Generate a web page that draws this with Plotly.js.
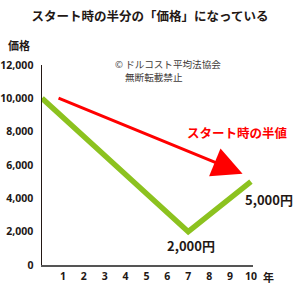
<!DOCTYPE html>
<html><head><meta charset="utf-8">
<script src="https://cdn.plot.ly/plotly-3.0.1.min.js"></script>
<style>html,body{margin:0;padding:0;background:#fff;}#chart{width:300px;height:293px;}</style>
</head><body><div id="chart"></div>
<script>
const years = [0, 7, 10];
const prices = [10000, 2000, 5000];
const xTicks = [1,2,3,4,5,6,7,8,9,10];
const yTicks = [0,2000,4000,6000,8000,10000,12000];
const yTickLabels = ['0','2,000','4,000','6,000','8,000','10,000','12,000'];
const arrowFrom = [0.72, 10050];
const arrowTo = [9.6, 5480];
const labelLow = '2,000円';
const labelEnd = '5,000円';
const arrowLabel = 'スタート時の半値';

const F = '"Noto Sans CJK JP", "Noto Sans", sans-serif';
const FN = '"Noto Sans", "Noto Sans CJK JP", sans-serif';

const trace = {
  x: years, y: prices, type: 'scatter', mode: 'lines',
  line: {color: '#8cc21f', width: 5.5}, cliponaxis: false, hoverinfo: 'skip'
};

function pa(px, py) { return {x: (px - 42) / 211, y: (265 - py) / 200}; }
const pLow = pa(191, 245), pEnd = pa(268.5, 199), pRed = pa(237, 132), pYear = pa(268, 277), pPrice = pa(19, 45);

const layout = {
  width: 300, height: 293,
  margin: {l: 42, r: 47, t: 65, b: 28},
  paper_bgcolor: '#fff', plot_bgcolor: '#fff',
  showlegend: false,
  font: {family: F, color: '#231815'},
  title: {text: 'スタート時の半分の「価格」になっている', x: 0.5, xanchor: 'center', y: 0.942, yanchor: 'middle',
          font: {family: F, size: 12.5, weight: 'bold', color: '#231815'}},
  xaxis: {range: [0, 10.1], tickvals: xTicks, ticktext: xTicks.map(String), showgrid: false, zeroline: false,
          showline: true, linecolor: '#555', linewidth: 1.5, ticks: '', ticklabelstandoff: 1,
          tickfont: {family: FN, size: 10.5, weight: 'bold', color: '#231815'}, fixedrange: true},
  yaxis: {range: [0, 12000], tickvals: yTicks, ticktext: yTickLabels, showgrid: false, zeroline: false,
          showline: true, linecolor: '#231815', linewidth: 1.5, ticks: '', ticklabelstandoff: 5,
          tickfont: {family: FN, size: 10.5, weight: 'bold', color: '#231815'}, fixedrange: true},
  annotations: [
    {x: arrowTo[0], y: arrowTo[1], ax: arrowFrom[0], ay: arrowFrom[1], xref: 'x', yref: 'y', axref: 'x', ayref: 'y',
     showarrow: true, arrowhead: 2, arrowsize: 2, arrowwidth: 3, arrowcolor: '#ff0000', text: ''},
    {x: pLow.x, y: pLow.y, xref: 'paper', yref: 'paper', xanchor: 'center', yanchor: 'middle', text: labelLow, showarrow: false,
     font: {family: F, size: 13, weight: 'bold', color: '#231815'}},
    {x: pEnd.x, y: pEnd.y, xref: 'paper', yref: 'paper', xanchor: 'center', yanchor: 'middle', text: labelEnd, showarrow: false,
     font: {family: F, size: 13, weight: 'bold', color: '#231815'}},
    {x: pRed.x, y: pRed.y, xref: 'paper', yref: 'paper', xanchor: 'center', yanchor: 'middle', text: arrowLabel, showarrow: false,
     font: {family: F, size: 12.5, weight: 'bold', color: '#ff0000'}},
    {x: pYear.x, y: pYear.y, xref: 'paper', yref: 'paper', xanchor: 'center', yanchor: 'middle', text: '年', showarrow: false,
     font: {family: F, size: 11, weight: 'bold', color: '#231815'}},
    {x: pPrice.x, y: pPrice.y, xref: 'paper', yref: 'paper', xanchor: 'center', yanchor: 'middle', text: '価格', showarrow: false,
     font: {family: F, size: 11, weight: 'bold', color: '#231815'}},
    {x: (113-42)/211, y: (265-64)/200, xref: 'paper', yref: 'paper', xanchor: 'left', yanchor: 'middle', text: '© ドルコスト平均法協会', showarrow: false,
     font: {family: F, size: 9.6, color: '#3e3a39'}},
    {x: (123-42)/211, y: (265-77)/200, xref: 'paper', yref: 'paper', xanchor: 'left', yanchor: 'middle', text: '無断転載禁止', showarrow: false,
     font: {family: F, size: 9.6, color: '#3e3a39'}}
  ]
};

Plotly.newPlot('chart', [trace], layout, {displayModeBar: false, staticPlot: true});
</script></body></html>
